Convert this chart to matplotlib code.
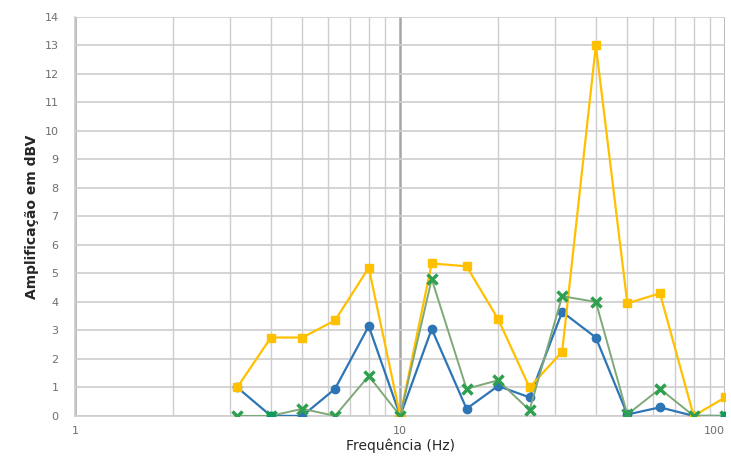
import matplotlib
matplotlib.use("Agg")
import matplotlib.pyplot as plt
from matplotlib.ticker import FixedLocator, NullFormatter

# ── 数据 ──
freq = [3.15, 4, 5, 6.3, 8, 10, 12.5, 16, 20, 25, 31.5, 40, 50, 63, 80, 100]
serie_azul = [1.0, 0.0, 0.0, 0.95, 3.15, 0.0, 3.05, 0.25, 1.05, 0.65, 3.65, 2.75, 0.05, 0.3, 0.0, 0.0]
serie_amarela = [1.0, 2.75, 2.75, 3.35, 5.2, 0.0, 5.35, 5.25, 3.4, 1.0, 2.25, 13.0, 3.95, 4.3, 0.0, 0.65]
serie_verde = [0.0, 0.0, 0.25, 0.0, 1.4, 0.0, 4.8, 0.95, 1.25, 0.2, 4.2, 4.0, 0.05, 0.95, 0.0, 0.0]
freq_quad = [4, 100]
serie_quad = [0.0, 0.0]

y_ticks = list(range(0, 15))
x_major = [1, 10, 100]
x_minor = [2, 3, 4, 5, 6, 7, 8, 9, 20, 30, 40, 50, 60, 70, 80, 90]

# ── 配色 ──
AZUL = "#2E75B6"
AMARELO = "#FFC000"
VERDE = "#2FA04F"
VERDE_LINHA = "#7FA878"
GRADE = "#CDCDCD"
TEXTO = "#6E6E6E"

fig = plt.figure(figsize=(7.31, 4.71), dpi=100)
ax = fig.add_axes([0.103, 0.117, 0.889, 0.847])

ax.plot(freq, serie_azul, "-o", color=AZUL, lw=1.6, markersize=6, zorder=3)
ax.plot(freq, serie_amarela, "-s", color=AMARELO, lw=1.6, markersize=6, zorder=4)
ax.plot(freq, serie_verde, "-x", color=VERDE_LINHA, lw=1.4, markersize=7,
        mec=VERDE, mew=2.5, zorder=5)
ax.plot(freq_quad, serie_quad, "s", color="#0E9C5A", markersize=6, zorder=6)

ax.set_xscale("log")
ax.set_xlim(1, 100)
ax.set_ylim(0, 14)
ax.xaxis.set_major_locator(FixedLocator(x_major))
ax.xaxis.set_minor_locator(FixedLocator(x_minor))
ax.xaxis.set_minor_formatter(NullFormatter())
ax.set_xticklabels([str(v) for v in x_major])
ax.set_yticks(y_ticks)

ax.grid(True, which="minor", axis="x", color=GRADE, lw=1.0)
ax.grid(True, which="major", axis="x", color="#A6A6A6", lw=1.8)
ax.grid(True, which="major", axis="y", color=GRADE, lw=1.2)
ax.set_axisbelow(True)

for s in ["top", "right"]:
    ax.spines[s].set_visible(False)
ax.spines["left"].set_color(GRADE)
ax.spines["bottom"].set_color(GRADE)
ax.spines["left"].set_linewidth(1.2)
ax.spines["bottom"].set_linewidth(1.2)

ax.tick_params(axis="both", which="both", length=0, labelsize=8, colors=TEXTO, pad=7)
ax.tick_params(axis="y", pad=12)
# o rótulo "100" fica encostado na borda direita
ax.get_xticklabels()[-1].set_horizontalalignment("right")
ax.get_xticklabels()[-1].set_x(100)

ax.set_ylabel("Amplificação em dBV", fontsize=10, fontweight="bold", color="#262626")
ax.set_xlabel("Frequência (Hz)", fontsize=10, color="#262626", labelpad=2)

fig.savefig("out.png", dpi=100, facecolor="white")
